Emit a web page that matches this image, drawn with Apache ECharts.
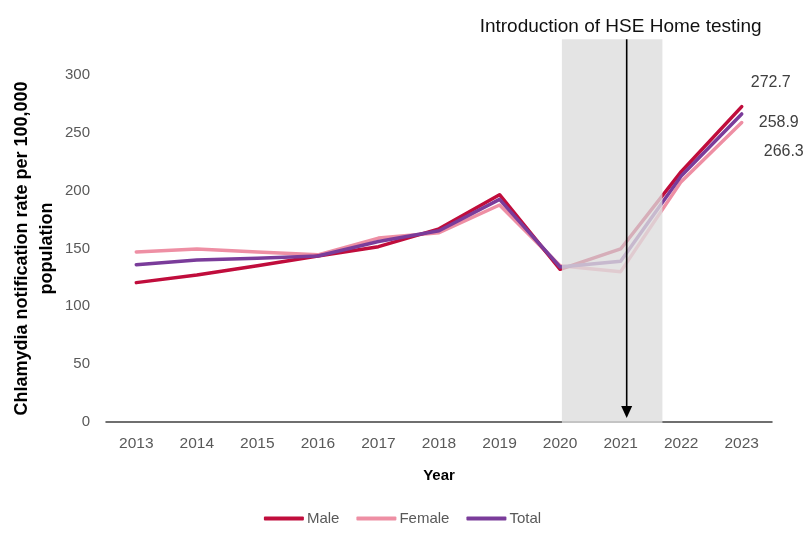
<!DOCTYPE html>
<html>
<head>
<meta charset="utf-8">
<script src="https://cdn.jsdelivr.net/npm/echarts@6/dist/echarts.min.js"></script>
<style>html,body{margin:0;padding:0;background:#fff;}#c{width:805px;height:533px;}</style>
</head>
<body>
<div id="c"></div>
<script>
const years = ['2013','2014','2015','2016','2017','2018','2019','2020','2021','2022','2023'];
const male = [120.5, 127, 135, 143.5, 151.6, 167, 196.5, 132, 149.6, 216.4, 272.7];
const female = [147, 149.6, 147, 144.5, 159, 163.7, 187.6, 135, 130, 207.8, 258.9];
const total = [136, 140, 141.5, 143.5, 156, 165.4, 192.5, 134, 139, 212.6, 266.3];
const yTicks = [0, 50, 100, 150, 200, 250, 300];
// annotation (in category-index units / axis values)
const shadeRange = [7.03, 8.69];
const shadeTop = 331;
const arrowX = 8.1;
const arrowTip = 3.5;
const noteText = 'Introduction of HSE Home testing';
const noteAt = [8.0, 342];

const colors = {Male:'#c00d3c', Female:'#ee8fa4', Total:'#7a3c9a'};
const labelOffsets = {Male:[4,-24], Female:[12,0], Total:[17,38]};

function mkSeries(name, vals){
  return {
    name, type:'line',
    data: vals.map((v,i)=> i===vals.length-1 ? {value:v, label:{show:true, position:'right', offset:labelOffsets[name], color:'#404040', fontSize:16, fontFamily:'Liberation Sans'}} : v),
    symbol:'circle', symbolSize:0, showSymbol:true, smooth:false,
    label:{show:false},
    lineStyle:{width:3.5, color:colors[name], cap:'round', join:'round'},
    itemStyle:{color:colors[name]},
    emphasis:{disabled:true}
  };
}

const chart = echarts.init(document.getElementById('c'), null, {renderer:'canvas'});
chart.setOption({
  animation:false,
  backgroundColor:'#fff',
  grid:{left:106, right:33, top:75, bottom:111, containLabel:false, outerBoundsMode:'none'},
  legend:{
    data:['Male','Female','Total'], bottom:2, left:'center',
    icon:'roundRect', itemWidth:40, itemHeight:4, itemGap:17,
    textStyle:{color:'#595959', fontSize:15, fontFamily:'Liberation Sans', padding:[0,0,0,-2]}
  },
  xAxis:[{
    type:'category', data:years, boundaryGap:true,
    axisLine:{lineStyle:{color:'#404040', width:1.5}},
    axisTick:{show:false},
    axisLabel:{color:'#595959', fontSize:15.5, fontFamily:'Liberation Sans', margin:14},
    name:'Year', nameLocation:'middle', nameGap:46, nameMoveOverlap:false,
    nameTextStyle:{color:'#000', fontSize:15, fontWeight:'bold', fontFamily:'Liberation Sans'}
  },{
    type:'value', min:-0.5, max:10.5, show:false
  }],
  yAxis:{
    type:'value', min:yTicks[0], max:yTicks[yTicks.length-1], interval:50,
    axisLine:{show:false}, axisTick:{show:false}, splitLine:{show:false},
    axisLabel:{color:'#595959', fontSize:15, fontFamily:'Liberation Sans', margin:16},
    name:'Chlamydia notification rate per 100,000\npopulation', nameLocation:'middle', nameGap:46, nameMoveOverlap:false,
    nameTextStyle:{color:'#000', fontSize:18, fontWeight:'bold', fontFamily:'Liberation Sans', lineHeight:25, align:'center'}
  },
  series:[
    mkSeries('Female', female),
    mkSeries('Male', male),
    mkSeries('Total', total),
    {
      type:'custom', xAxisIndex:1, yAxisIndex:0, z:10, silent:true, clip:false,
      data:[[shadeRange[0], shadeRange[1], shadeTop]],
      renderItem:function(params, api){
        const p0 = api.coord([shadeRange[0], shadeTop]);
        const p1 = api.coord([shadeRange[1], 0]);
        const a = api.coord([arrowX, shadeTop]);
        const b = api.coord([arrowX, arrowTip]);
        const t = api.coord(noteAt);
        const hh = 12, hw = 5.5;
        return {type:'group', children:[
          {type:'rect', shape:{x:p0[0], y:p0[1], width:p1[0]-p0[0], height:p1[1]-p0[1]+1}, style:{fill:'rgba(221,221,221,0.78)'}},
          {type:'line', shape:{x1:a[0], y1:a[1], x2:b[0], y2:b[1]-hh+1}, style:{stroke:'#000', lineWidth:1.6}},
          {type:'polygon', shape:{points:[[b[0]-hw,b[1]-hh],[b[0]+hw,b[1]-hh],[b[0],b[1]]]}, style:{fill:'#000'}},
          {type:'text', x:t[0], y:t[1], style:{text:noteText, fill:'#111', font:'19px "Liberation Sans"', align:'center', verticalAlign:'middle'}}
        ]};
      }
    }
  ]
});
</script>
</body>
</html>
